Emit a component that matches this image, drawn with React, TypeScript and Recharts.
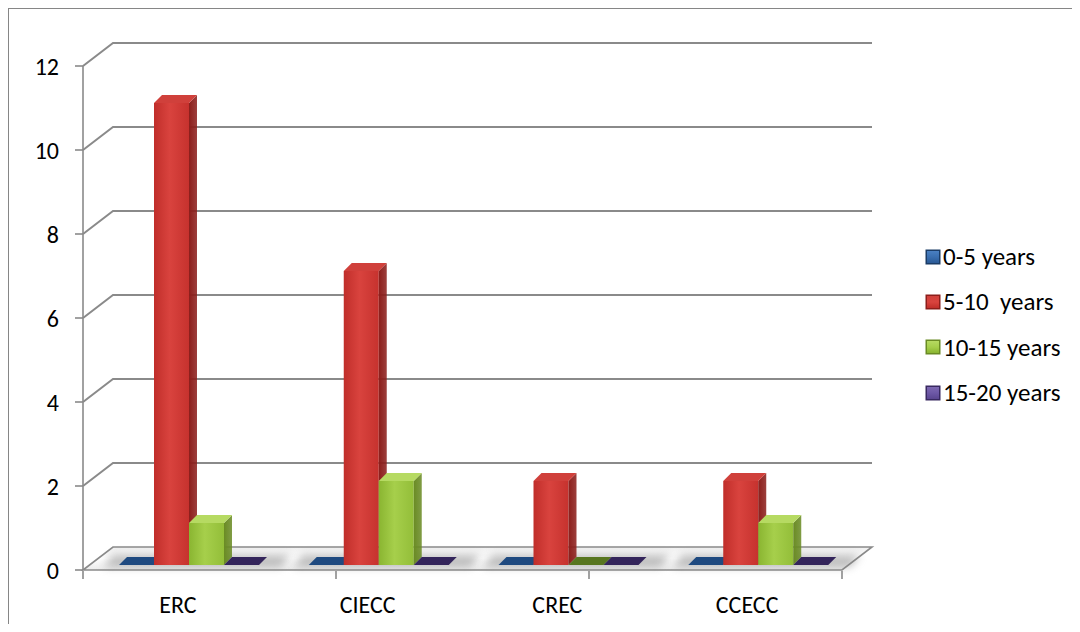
import React from 'react';
import { BarChart, Bar, XAxis, YAxis, CartesianGrid, Legend } from 'recharts';

// Chart values
const categories = ['ERC', 'CIECC', 'CREC', 'CCECC'];
const years0to5 = [0, 0, 0, 0];
const years5to10 = [11, 7, 2, 2];
const years10to15 = [1, 2, 0, 1];
const years15to20 = [0, 0, 0, 0];
const seriesNames = ['0-5 years', '5-10  years', '10-15 years', '15-20 years'];
const yTicks = [0, 2, 4, 6, 8, 10, 12];
const edgeTicks = [0, 1, 2, 3, 4];

const data = categories.map((category, i) => ({
  category,
  s0: years0to5[i],
  s1: years5to10[i],
  s2: years10to15[i],
  s3: years15to20[i],
}));

// Visual styling for each series (3D faces)
const SERIES = [
  { key: 's0', id: 'blu', left: '#2a5a96', mid: '#3a6fb0', right: '#2b5b97', side: '#1b3c66', top: '#4a80c2', flat: '#1f4a80' },
  { key: 's1', id: 'red', left: '#c02e2a', mid: '#d9433e', right: '#c6322e', side: '#8c1e1b', top: '#d0403b', flat: '#8c1e1b' },
  { key: 's2', id: 'grn', left: '#8ab531', mid: '#a6cf4b', right: '#93be39', side: '#6a8b24', top: '#b6da62', flat: '#587620' },
  { key: 's3', id: 'pur', left: '#5a4690', mid: '#6d58a6', right: '#5c4892', side: '#382960', top: '#7c68b0', flat: '#34255b' },
];

const FONT = 'Carlito, Calibri, Lato, sans-serif';
const GRID = '#8a8a8a';

const CHART_W = 1071;
const CHART_H = 623;
const MARGIN = { top: 57, right: 238, bottom: 60, left: 0 };
const Y_AXIS_W = 74;
const X_AXIS_H = 1;
const PLOT_BOTTOM = CHART_H - MARGIN.bottom - 2 * X_AXIS_H;

// Perspective offsets: back wall and bar placement / depth
const WALL_DX = 30;
const WALL_DY = -23;
const BAR_DX = 11;
const BAR_DY = -5;
const DEPTH = 8;

// Blurred floor shadow under a category's group of bars (drawn by the first series)
const groupShadow = (bx: number, base: number, w: number) => {
  const left = bx - 16;
  const right = bx + SERIES.length * w + DEPTH + 14;
  return (
    <polygon
      points={`${left},${base + 2} ${left + 10},${base - 10} ${right + 10},${base - 10} ${right},${base + 2}`}
      fill="#7d7d7d"
      opacity={0.5}
      filter="url(#floor-shadow)"
    />
  );
};

const makeBarShape = (s: typeof SERIES[number], withShadow: boolean) => (props: any) => {
  const { x, y, width, height } = props;
  if (x == null || y == null) return null;
  const w = width;
  const h = Math.max(0, height || 0);
  const bx = x + BAR_DX;
  const by = y + BAR_DY;
  const base = by + h;
  const shadow = withShadow ? groupShadow(bx, base, w) : null;
  if (h < 0.5) {
    return (
      <g>
        {shadow}
        <polygon
          points={`${bx},${base} ${bx + DEPTH},${base - DEPTH} ${bx + w + DEPTH},${base - DEPTH} ${bx + w},${base}`}
          fill={s.flat}
        />
      </g>
    );
  }
  return (
    <g>
      {shadow}
      <rect x={bx} y={by} width={w} height={h} fill={`url(#front-${s.id})`} />
      <polygon
        points={`${bx + w},${by} ${bx + w + DEPTH},${by - DEPTH} ${bx + w + DEPTH},${by + h - DEPTH} ${bx + w},${by + h}`}
        fill={`url(#side-${s.id})`}
      />
      <polygon
        points={`${bx},${by} ${bx + DEPTH},${by - DEPTH} ${bx + w + DEPTH},${by - DEPTH} ${bx + w},${by}`}
        fill={s.top}
      />
    </g>
  );
};

// Back-wall gridlines; the zero line becomes the floor of the chart
const HorizontalLine = (props: any) => {
  const { x1, x2, y1 } = props;
  if (y1 >= PLOT_BOTTOM - 1) {
    return (
      <polygon
        points={`${x1},${y1} ${x1 + WALL_DX},${y1 + WALL_DY} ${x2 + WALL_DX},${y1 + WALL_DY} ${x2},${y1}`}
        fill="url(#floor-fill)"
        stroke={GRID}
        strokeWidth={1.6}
      />
    );
  }
  return (
    <path
      d={`M${x1},${y1} L${x1 + WALL_DX},${y1 + WALL_DY} L${x2 + WALL_DX},${y1 + WALL_DY}`}
      fill="none"
      stroke={GRID}
      strokeWidth={2}
    />
  );
};

const LegendIcon = ({ s }: { s: typeof SERIES[number] }) => (
  <svg width={16} height={16} style={{ display: 'block' }}>
    <defs>
      <linearGradient id={`legend-${s.id}`} x1="0" y1="0" x2="0" y2="1">
        <stop offset="0" stopColor={s.top} />
        <stop offset="0.5" stopColor={s.mid} />
        <stop offset="1" stopColor={s.left} />
      </linearGradient>
    </defs>
    <rect x={0.5} y={0.5} width={15} height={15} fill={s.side} />
    <rect x={2} y={2} width={12} height={12} fill={`url(#legend-${s.id})`} />
  </svg>
);

const LegendContent = (props: any) => {
  const payload: any[] = props.payload || [];
  return (
    <div style={{ fontFamily: FONT, fontSize: 25, color: '#000' }}>
      {SERIES.map((s, i) => {
        const entry = payload.find((p) => p.dataKey === s.key);
        return (
          <div key={s.key} style={{ display: 'flex', alignItems: 'center', height: 45.3, whiteSpace: 'pre' }}>
            <LegendIcon s={s} />
            <span style={{ marginLeft: 2 }}>{entry ? entry.value : seriesNames[i]}</span>
          </div>
        );
      })}
    </div>
  );
};

export default function App() {
  return (
    <div
      style={{
        width: CHART_W,
        height: CHART_H,
        borderLeft: '1px solid #868686',
        borderTop: '1px solid #868686',
        marginBottom: -8,
        background: '#fff',
      }}
    >
      <BarChart
        width={CHART_W}
        height={CHART_H}
        data={data}
        margin={MARGIN}
        barCategoryGap={25}
        barGap={0}
      >
        <defs>
          {SERIES.map((s) => (
            <React.Fragment key={s.id}>
              <linearGradient id={`front-${s.id}`} x1="0" y1="0" x2="1" y2="0">
                <stop offset="0" stopColor={s.left} />
                <stop offset="0.45" stopColor={s.mid} />
                <stop offset="1" stopColor={s.right} />
              </linearGradient>
              <linearGradient id={`side-${s.id}`} x1="0" y1="0" x2="1" y2="0">
                <stop offset="0" stopColor={s.side} />
                <stop offset="1" stopColor={s.side} stopOpacity={0.85} />
              </linearGradient>
            </React.Fragment>
          ))}
          <linearGradient id="floor-fill" x1="0" y1="0" x2="0" y2="1">
            <stop offset="0" stopColor="#f0f0f0" />
            <stop offset="0.5" stopColor="#ffffff" />
            <stop offset="1" stopColor="#ececec" />
          </linearGradient>
          <filter id="floor-shadow" x="-20%" y="-100%" width="140%" height="300%">
            <feGaussianBlur stdDeviation="4" />
          </filter>
        </defs>
        <CartesianGrid horizontal={HorizontalLine} vertical={false} />
        <XAxis
          dataKey="category"
          height={X_AXIS_H}
          axisLine={false}
          tickLine={false}
          tickSize={0}
          tickMargin={26}
          interval={0}
          tick={{ fill: '#000', fontSize: 24, fontFamily: FONT }}
        />
        <XAxis
          xAxisId="edges"
          type="number"
          domain={[0, 4]}
          ticks={edgeTicks}
          interval={0}
          allowDataOverflow
          height={X_AXIS_H}
          axisLine={false}
          tickSize={8}
          tickLine={{ stroke: GRID, strokeWidth: 1.6 }}
          tickFormatter={() => ''}
        />
        <YAxis
          width={Y_AXIS_W}
          domain={[0, 12]}
          ticks={yTicks}
          interval={0}
          axisLine={{ stroke: GRID, strokeWidth: 1.6 }}
          tickLine={{ stroke: GRID, strokeWidth: 1.6 }}
          tickSize={8}
          tickMargin={16}
          tick={{ fill: '#000', fontSize: 24, fontFamily: FONT }}
        />
        <Legend
          layout="vertical"
          align="center"
          verticalAlign="middle"
          wrapperStyle={{ left: 916, top: 225, width: 160 }}
          content={LegendContent}
        />
        {SERIES.map((s, i) => (
          <Bar
            key={s.key}
            dataKey={s.key}
            name={seriesNames[i]}
            fill={s.mid}
            isAnimationActive={false}
            shape={makeBarShape(s, i === 0)}
          />
        ))}
      </BarChart>
    </div>
  );
}
